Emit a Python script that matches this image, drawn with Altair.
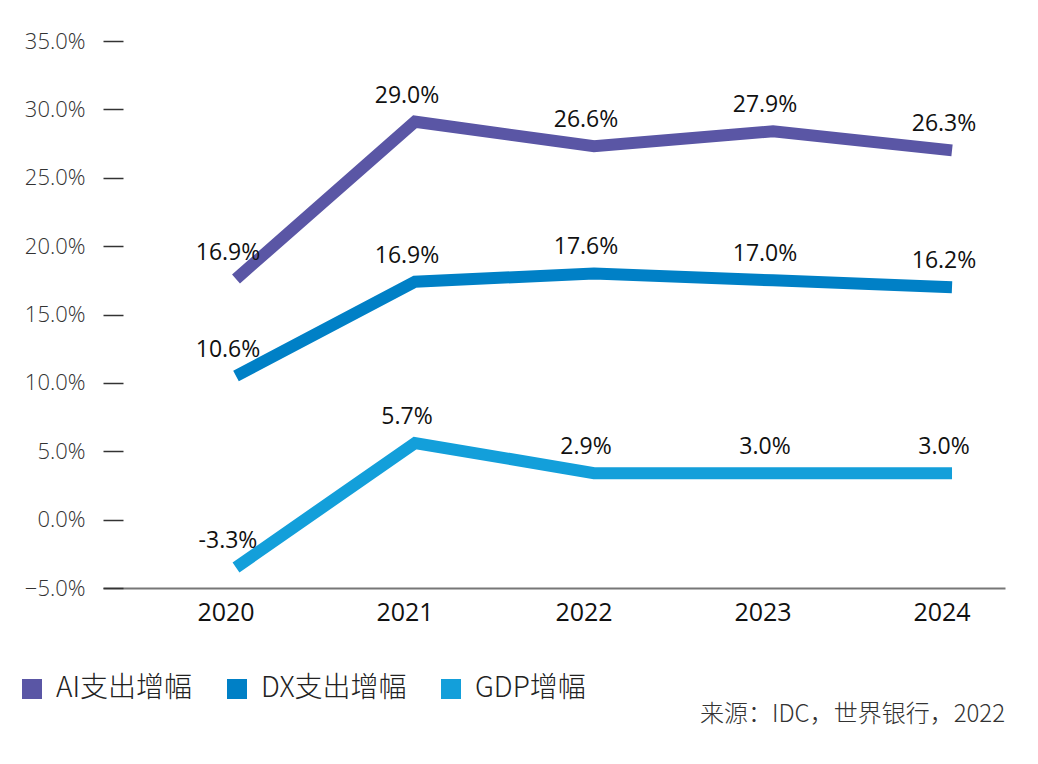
import altair as alt
import pandas as pd

years = [2020, 2021, 2022, 2023, 2024]
series_names = ["AI支出增幅", "DX支出增幅", "GDP增幅"]
ai_plot = [17.6, 29.1, 27.3, 28.4, 27.0]
dx_plot = [10.5, 17.4, 18.0, 17.5, 17.0]
gdp_plot = [-3.5, 5.6, 3.4, 3.4, 3.4]
ai_labels = ["16.9%", "29.0%", "26.6%", "27.9%", "26.3%"]
dx_labels = ["10.6%", "16.9%", "17.6%", "17.0%", "16.2%"]
gdp_labels = ["-3.3%", "5.7%", "2.9%", "3.0%", "3.0%"]
colors = ["#5A56A5", "#0080C6", "#139FDA"]
y_ticks = [-5, 0, 5, 10, 15, 20, 25, 30, 35]
source_text = "来源：IDC，世界银行，2022"

rows = []
for name, vals, labs in zip(series_names, [ai_plot, dx_plot, gdp_plot], [ai_labels, dx_labels, gdp_labels]):
    for yr, v, lb in zip(years, vals, labs):
        rows.append({"year": yr, "value": v, "label": lb, "series": name})
df = pd.DataFrame(rows)
year_df = pd.DataFrame({"year": years, "year_label": [str(y) for y in years]})

x_enc = alt.X(
    "year:Q",
    scale=alt.Scale(domain=[2019.257, 2024.296], nice=False, zero=False),
    axis=alt.Axis(
        values=years, title=None, ticks=False, grid=False, labels=False,
        domainColor="#777777", domainWidth=2,
    ),
)
y_enc = alt.Y(
    "value:Q",
    scale=alt.Scale(domain=[-5, 35], nice=False, zero=False),
    axis=alt.Axis(
        values=y_ticks, title=None, grid=False, domain=False,
        labelExpr="format(datum.value, '.1f') + '%'",
        tickSize=20, tickColor="#333333", tickWidth=1.5, offset=-20,
        labelPadding=18, labelFontSize=22, labelFont="Open Sans",
        labelFontWeight=300, labelColor="#333333",
    ),
)

lines = alt.Chart(df).mark_line(strokeWidth=12, strokeCap="butt", strokeJoin="miter").encode(
    x=x_enc,
    y=y_enc,
    color=alt.Color(
        "series:N",
        scale=alt.Scale(domain=series_names, range=colors),
        sort=series_names,
        legend=alt.Legend(
            orient="none", legendX=-85, legendY=634, direction="horizontal",
            title=None, symbolType="square", symbolSize=64, symbolStrokeWidth=12,
            labelFontSize=28, labelFont="Noto Sans CJK SC", labelFontWeight=300,
            labelColor="#222222", labelOffset=10, columnPadding=16,
        ),
    ),
    detail="series:N",
)

texts = alt.Chart(df).mark_text(
    fontSize=23, font="Open Sans", color="#111111", dy=-26, dx=-8, baseline="middle"
).encode(
    x=alt.X("year:Q"),
    y=alt.Y("value:Q"),
    text="label:N",
)

year_texts = alt.Chart(year_df).mark_text(
    fontSize=25, font="Open Sans", fontWeight=500, color="#111111", dy=25, dx=-10, baseline="middle"
).encode(
    x=alt.X("year:Q"),
    y=alt.datum(-5),
    text="year_label:N",
)

chart = alt.layer(lines, texts, year_texts).properties(
    width=902,
    height=547,
    padding={"left": 103, "top": 41, "right": 33, "bottom": 176},
    autosize=alt.AutoSizeParams(type="none"),
    title=alt.TitleParams(
        text=source_text, orient="bottom", anchor="end", fontSize=24,
        font="Noto Sans CJK SC", fontWeight=300, color="#333333", offset=0, dy=-14,
    ),
).configure_view(stroke=None)

chart.save("out.html", embed_options={"renderer": "svg", "actions": False})
